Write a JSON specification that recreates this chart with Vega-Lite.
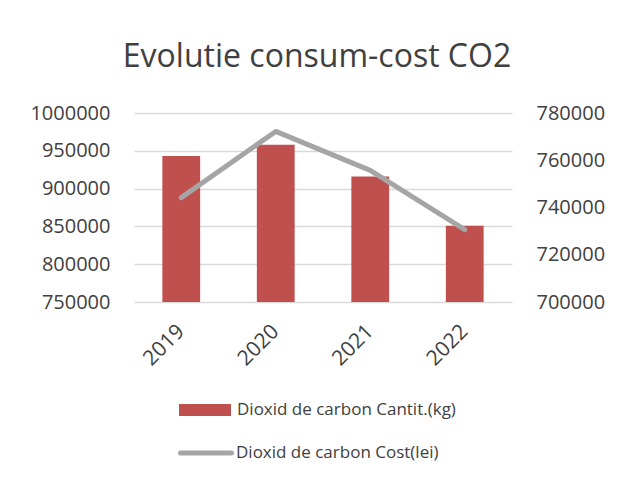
{
  "$schema": "https://vega.github.io/schema/vega-lite/v6.json",
  "autosize": {"type": "none"},
  "width": 378,
  "height": 189,
  "padding": {"left": 134, "top": 113, "right": 109, "bottom": 176},
  "background": "white",
  "title": {
    "text": "Evolutie consum-cost CO2",
    "font": "Open Sans",
    "fontSize": 32,
    "fontWeight": "normal",
    "color": "#404040",
    "anchor": "middle",
    "baseline": "alphabetic",
    "offset": 4,
    "dx": -6
  },
  "data": {
    "values": [
      {"year": "2019", "qty": 943000, "cost": 744200},
      {"year": "2020", "qty": 958000, "cost": 772200},
      {"year": "2021", "qty": 916000, "cost": 755700},
      {"year": "2022", "qty": 851000, "cost": 730600}
    ]
  },
  "encoding": {
    "x": {
      "field": "year",
      "type": "ordinal",
      "scale": {"paddingInner": 0, "paddingOuter": 0},
      "axis": {
        "title": null,
        "labelAngle": -45,
        "labelAlign": "right",
        "labelBaseline": "middle",
        "labelFont": "Open Sans",
        "labelFontSize": 21,
        "labelColor": "#404040",
        "labelPadding": 26,
        "domain": false,
        "ticks": false,
        "grid": false
      }
    }
  },
  "layer": [
    {
      "mark": {"type": "bar", "width": {"band": 0.4}, "color": "#C0504D"},
      "encoding": {
        "y": {
          "field": "qty",
          "type": "quantitative",
          "scale": {"domain": [750000, 1000000], "clamp": true, "zero": false, "nice": false},
          "axis": {
            "title": null,
            "orient": "left",
            "values": [750000, 800000, 850000, 900000, 950000, 1000000],
            "format": "d",
            "labelFont": "Open Sans",
            "labelFontSize": 20,
            "labelColor": "#404040",
            "labelPadding": 24,
            "domain": false,
            "ticks": false,
            "grid": true,
            "gridColor": "#D9D9D9",
            "gridWidth": 1.5
          }
        },
        "fill": {
          "datum": "Dioxid de carbon Cantit.(kg)",
          "scale": {"range": ["#C0504D"]},
          "legend": {
            "title": null,
            "orient": "none",
            "legendX": 45,
            "legendY": 271,
            "padding": 0,
            "symbolType": "M-1,-0.23H1V0.23H-1Z",
            "symbolSize": 2704,
            "symbolStrokeWidth": 0,
            "labelFont": "Open Sans",
            "labelFontSize": 17,
            "labelColor": "#404040",
            "labelOffset": 6,
            "labelLimit": 400
          }
        }
      }
    },
    {
      "mark": {"type": "line", "strokeWidth": 5, "strokeCap": "round", "strokeJoin": "round", "color": "#A5A5A5"},
      "encoding": {
        "y": {
          "field": "cost",
          "type": "quantitative",
          "scale": {"domain": [700000, 780000], "zero": false, "nice": false},
          "axis": {
            "title": null,
            "orient": "right",
            "values": [700000, 720000, 740000, 760000, 780000],
            "format": "d",
            "labelFont": "Open Sans",
            "labelFontSize": 20,
            "labelColor": "#404040",
            "labelPadding": 24,
            "domain": false,
            "ticks": false,
            "grid": false
          }
        },
        "stroke": {
          "datum": "Dioxid de carbon Cost(lei)",
          "scale": {"range": ["#A5A5A5"]},
          "legend": {
            "title": null,
            "orient": "none",
            "legendX": 44,
            "legendY": 312,
            "padding": 0,
            "symbolType": "stroke",
            "symbolSize": 2601,
            "symbolStrokeWidth": 5,
            "labelFont": "Open Sans",
            "labelFontSize": 17,
            "labelColor": "#404040",
            "labelOffset": 2,
            "labelLimit": 400,
            "encode": {"symbols": {"update": {"strokeCap": {"value": "round"}}}}
          }
        }
      }
    }
  ],
  "resolve": {"scale": {"y": "independent"}},
  "config": {"view": {"stroke": null}}
}
